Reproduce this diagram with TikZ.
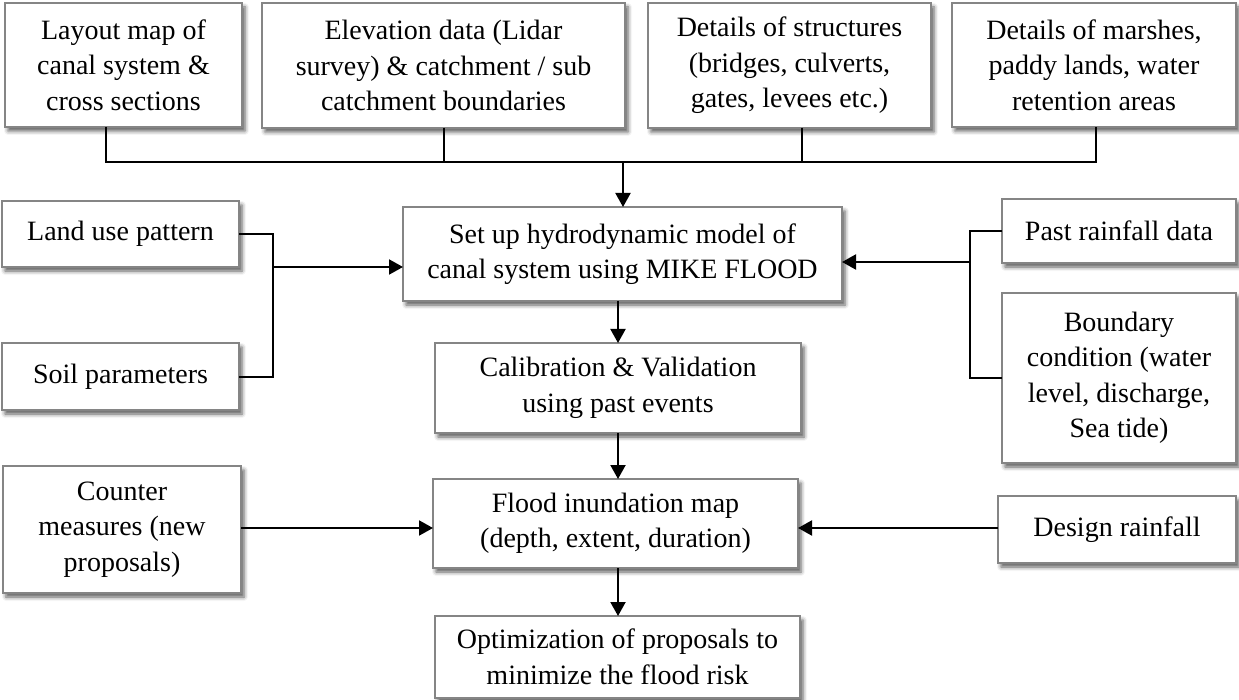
\documentclass[tikz,border=0pt]{standalone}
\usepackage{fontspec}
\setmainfont{Liberation Serif}
\usetikzlibrary{arrows.meta,shadows.blur,calc}
\definecolor{boxgray}{HTML}{858585}
\begin{document}
\begin{tikzpicture}[x=1pt,y=-1pt,
  box/.style={draw=boxgray, line width=1.8pt, fill=white, align=center,
    anchor=north west, inner sep=0pt, outer sep=0pt,
    font=\fontsize{28}{35.5}\selectfont,
    blur shadow={shadow xshift=3pt, shadow yshift=-4pt, shadow blur radius=4pt, shadow opacity=65}},
  conn/.style={line width=2pt, black},
  arr/.style={conn, -{Triangle[length=14pt,width=15pt]}}]
\useasboundingbox (0,0) rectangle (1239,700);
% top row
\node[box, minimum width=237pt, minimum height=124pt] (b1) at (5,3) {Layout map of\\canal system \&\\cross sections};
\node[box, minimum width=363pt, minimum height=125pt] (b2) at (262,3) {Elevation data (Lidar\\survey) \& catchment / sub\\catchment boundaries};
\node[box, minimum width=283pt, minimum height=125pt] (b3) at (648,3) {Details of structures\\(bridges, culverts,\\gates, levees etc.)};
\node[box, minimum width=284pt, minimum height=124pt] (b4) at (952,3) {Details of marshes,\\paddy lands, water\\retention areas};
% centre column
\node[box, minimum width=439pt, minimum height=94pt] (setup) at (403,207) {Set up hydrodynamic model of\\canal system using MIKE FLOOD};
\node[box, minimum width=366pt, minimum height=90pt] (calib) at (435,343) {Calibration \& Validation\\using past events};
\node[box, minimum width=365pt, minimum height=89pt] (flood) at (433,479) {Flood inundation map\\(depth, extent, duration)};
\node[box, minimum width=365pt, minimum height=82pt] (opt) at (435,616) {Optimization of proposals to\\minimize the flood risk};
% left column
\node[box, minimum width=237pt, minimum height=66pt] (land) at (2,201) {Land use pattern};
\node[box, minimum width=237pt, minimum height=67pt] (soil) at (2,343) {Soil parameters};
\node[box, minimum width=238pt, minimum height=127pt] (counter) at (3,466) {Counter\\measures (new\\proposals)};
% right column
\node[box, minimum width=234pt, minimum height=64pt] (past) at (1002,199) {Past rainfall data};
\node[box, minimum width=234pt, minimum height=170pt] (bound) at (1002,293) {Boundary\\condition (water\\level, discharge,\\Sea tide)};
\node[box, minimum width=238pt, minimum height=67pt] (design) at (998,496) {Design rainfall};
% connectors: top bus
\coordinate (bus) at (623,162);
\draw[conn] ([xshift=-17.5pt]b1.south) |- (bus) -| ([xshift=2pt]b4.south);
\draw[conn] (b2.south) -- (b2.south |- bus);
\draw[conn] ([xshift=12.5pt]b3.south) -- ([xshift=12.5pt]b3.south |- bus);
\draw[arr] (bus) -- (bus |- setup.north);
% centre chain
\draw[arr] (calib.north |- setup.south) -- (calib.north);
\draw[arr] (calib.south) -- (calib.south |- flood.north);
\draw[arr] (calib.south |- flood.south) -- (calib.south |- opt.north);
% left group
\coordinate (lj) at (273,267);
\draw[conn] (land.east) -| (lj |- soil.east) -- (soil.east);
\draw[arr] (lj) -- (lj -| setup.west);
% right group
\coordinate (rj) at (970,262);
\draw[conn] (past.west) -| (rj |- bound.west) -- (bound.west);
\draw[arr] (rj) -- (rj -| setup.east);
% flood inputs
\coordinate (fy) at (0,528);
\draw[arr] (counter.east |- fy) -- (flood.west |- fy);
\draw[arr] (design.west |- fy) -- (flood.east |- fy);
\end{tikzpicture}
\end{document}
